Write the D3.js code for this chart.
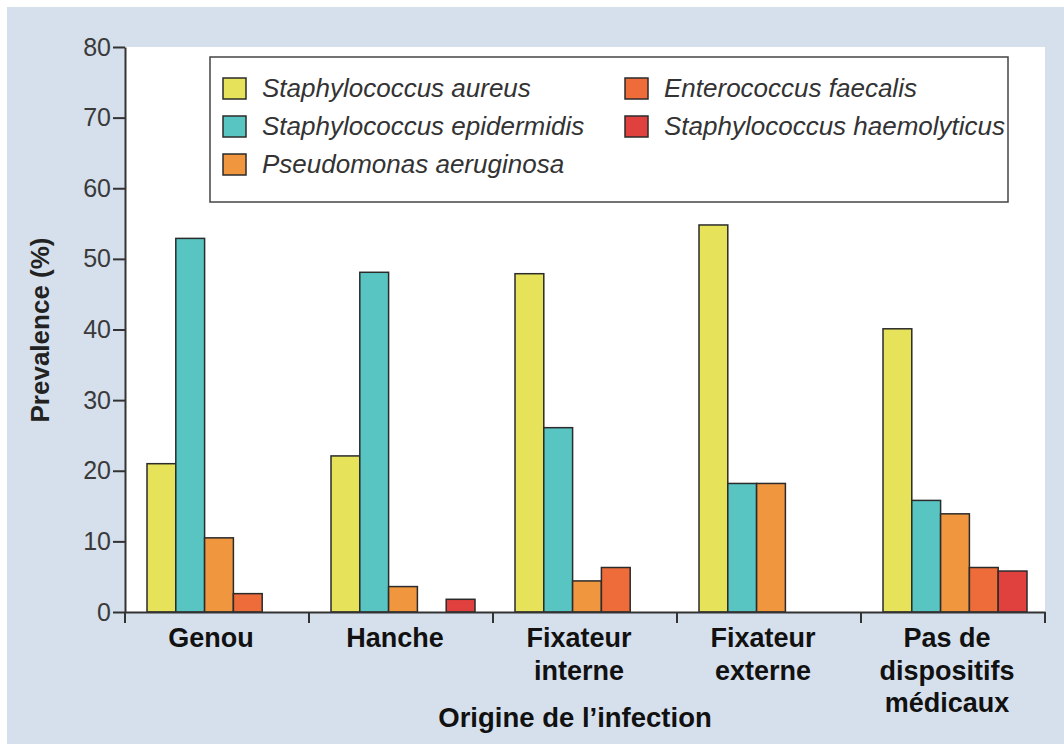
<!DOCTYPE html>
<html>
<head>
<meta charset="utf-8">
<script src="https://cdn.jsdelivr.net/npm/d3@7"></script>
<style>
  html, body { margin: 0; padding: 0; background: #ffffff; }
  svg { display: block; }
  text { font-family: "Liberation Sans", Arial, Helvetica, sans-serif; }
</style>
</head>
<body>
<svg id="chart" width="1064" height="744"></svg>
<script>
// ---- data ----
const categories = [
  ["Genou"],
  ["Hanche"],
  ["Fixateur", "interne"],
  ["Fixateur", "externe"],
  ["Pas de", "dispositifs", "médicaux"]
];
const seriesNames = [
  "Staphylococcus aureus",
  "Staphylococcus epidermidis",
  "Pseudomonas aeruginosa",
  "Enterococcus faecalis",
  "Staphylococcus haemolyticus"
];
const aureus       = [21, 22.1, 47.9, 54.8, 40.1];
const epidermidis  = [52.9, 48.1, 26.1, 18.2, 15.8];
const pseudomonas  = [10.5, 3.6, 4.4, 18.2, 13.9];
const enterococcus = [2.6, 0, 6.3, 0, 6.3];
const haemolyticus = [0, 1.8, 0, 0, 5.8];
const yTicks = [0, 10, 20, 30, 40, 50, 60, 70, 80];
const colors = ["#e6e35a", "#58c5c3", "#f0963f", "#ee6c39", "#e0403e"];

const seriesValues = [aureus, epidermidis, pseudomonas, enterococcus, haemolyticus];

// ---- layout ----
const svg = d3.select("#chart");
const W = 1064, H = 744;
const plot = { left: 125, right: 1045, top: 47, bottom: 612 };

// background
svg.append("rect").attr("x", 0).attr("y", 0).attr("width", W).attr("height", H).attr("fill", "#ffffff");
svg.append("rect").attr("x", 7).attr("y", 7).attr("width", W - 7).attr("height", H - 7).attr("fill", "#d6e0ec");
svg.append("rect").attr("x", plot.left).attr("y", plot.top)
  .attr("width", plot.right - plot.left).attr("height", plot.bottom - plot.top).attr("fill", "#ffffff");

const catIdx = categories.map((d, i) => i);
const x0 = d3.scaleBand().domain(catIdx).range([plot.left, plot.right]).padding(0);
const x1 = d3.scaleBand().domain(d3.range(seriesNames.length)).range([22, 166]).padding(0);
const y = d3.scaleLinear().domain([0, 80]).range([plot.bottom, plot.top]);

// bars
const groups = svg.append("g").selectAll("g").data(catIdx).join("g")
  .attr("transform", d => `translate(${x0(d)},0)`);
groups.selectAll("rect")
  .data(ci => seriesValues.map((vals, si) => ({ si, v: vals[ci] })).filter(d => d.v > 0))
  .join("rect")
  .attr("x", d => x1(d.si))
  .attr("width", x1.bandwidth())
  .attr("y", d => y(d.v))
  .attr("height", d => y(0) - y(d.v))
  .attr("fill", d => colors[d.si])
  .attr("stroke", "#2b2b2b")
  .attr("stroke-width", 1.5);

// y axis
const yAxis = d3.axisLeft(y).tickValues(yTicks).tickSize(12).tickPadding(2).tickSizeOuter(0);
const gy = svg.append("g").attr("transform", `translate(${plot.left},0)`).call(yAxis);
gy.select(".domain").attr("stroke", "#333").attr("stroke-width", 2);
gy.selectAll(".tick line").attr("stroke", "#333").attr("stroke-width", 2);
gy.selectAll(".tick text").attr("fill", "#3a3a3a").style("font-size", "25px");

// x axis (baseline with category separators)
const xAxis = d3.axisBottom(x0).tickSize(0).tickFormat("");
const gx = svg.append("g").attr("transform", `translate(0,${plot.bottom})`).call(xAxis);
gx.select(".domain").attr("stroke", "#333").attr("stroke-width", 2);
const sepPositions = catIdx.map(i => x0(i)).concat([x0(catIdx[catIdx.length - 1]) + x0.bandwidth()]);
gx.selectAll("line.sep").data(sepPositions).join("line").attr("class", "sep")
  .attr("x1", d => d).attr("x2", d => d).attr("y1", 0).attr("y2", 11)
  .attr("stroke", "#333").attr("stroke-width", 2);

// category labels
const catLabels = svg.append("g");
categories.forEach((lines, i) => {
  const cx = x0(i) + x0.bandwidth() / 2 - 6;
  const t = catLabels.append("text")
    .attr("x", cx)
    .attr("y", plot.bottom + 35)
    .attr("text-anchor", "middle")
    .attr("fill", "#111")
    .style("font-size", "27px").style("font-weight", "bold");
  lines.forEach((ln, k) => {
    t.append("tspan").attr("x", cx).attr("dy", k === 0 ? 0 : 32.5).text(ln);
  });
});

// axis titles
svg.append("text")
  .attr("x", (plot.left + plot.right) / 2 - 10)
  .attr("y", 727)
  .attr("text-anchor", "middle")
  .attr("fill", "#111")
  .style("font-size", "27.5px").style("font-weight", "bold")
  .text("Origine de l’infection");

svg.append("text")
  .attr("transform", `translate(49,330) rotate(-90)`)
  .attr("text-anchor", "middle")
  .attr("fill", "#222")
  .style("font-size", "26px").style("font-weight", "bold")
  .text("Prevalence (%)");

// legend
const lg = svg.append("g");
lg.append("rect").attr("x", 210).attr("y", 57).attr("width", 798).attr("height", 145)
  .attr("fill", "#ffffff").attr("stroke", "#444").attr("stroke-width", 1.5);
const legendCols = [223, 625];
const legendRows = [88, 126, 164];
seriesNames.forEach((name, i) => {
  const col = i < 3 ? 0 : 1;
  const row = i < 3 ? i : i - 3;
  const lx = legendCols[col], ly = legendRows[row];
  lg.append("rect").attr("x", lx).attr("y", ly - 10).attr("width", 23).attr("height", 21)
    .attr("fill", colors[i]).attr("stroke", "#2b2b2b").attr("stroke-width", 1.5);
  lg.append("text").attr("x", lx + 39).attr("y", ly + 9)
    .attr("fill", "#333").style("font-size", "26px").style("font-style", "italic")
    .text(name);
});
</script>
</body>
</html>
